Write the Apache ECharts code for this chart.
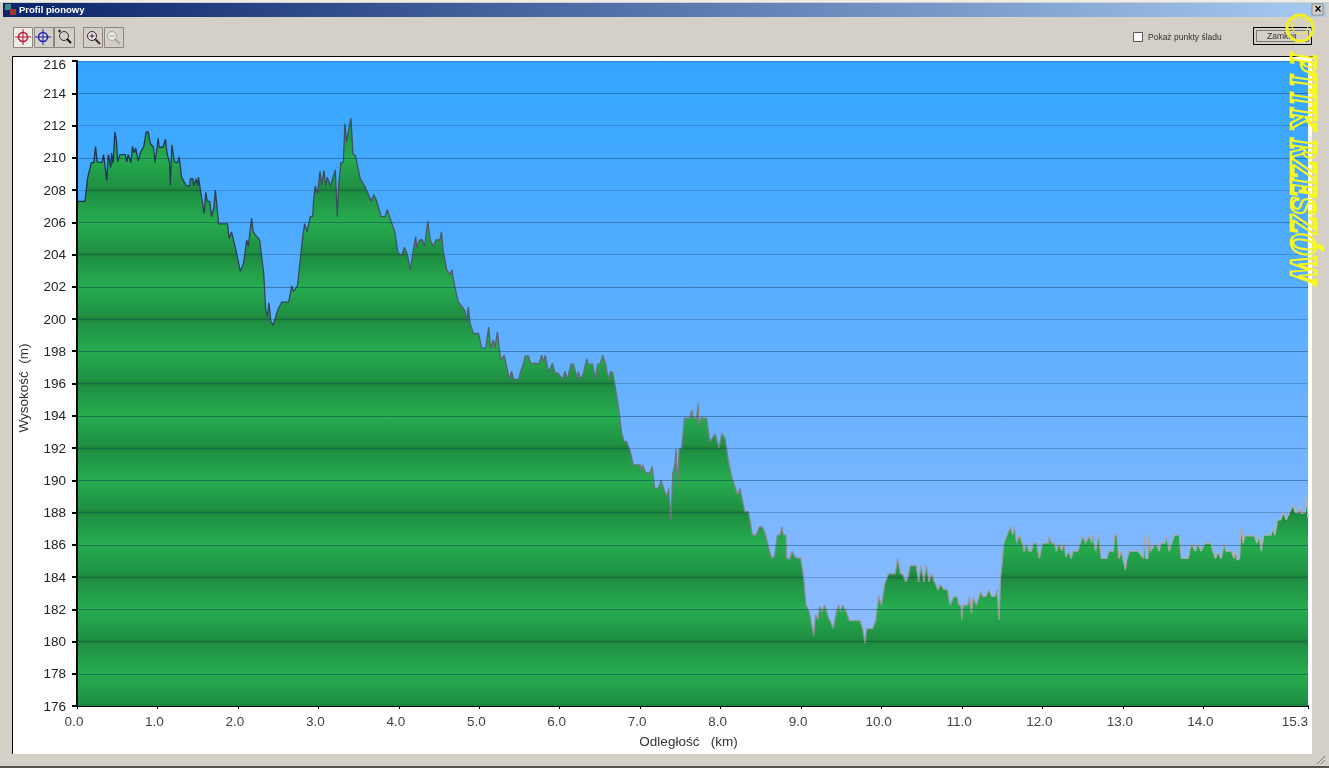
<!DOCTYPE html>
<html>
<head>
<meta charset="utf-8">
<title>Profil pionowy</title>
<style>html,body{margin:0;padding:0;background:#d4d0c8;overflow:hidden}#main{width:1329px;height:768px}</style>
<script src="https://cdn.jsdelivr.net/npm/echarts@6/dist/echarts.min.js"></script>
</head>
<body>
<div id="main"></div>
<script>
// odleglosc (km) i wysokosc (m)
var distances = [0,0.10,0.13,0.15,0.18,0.21,0.23,0.25,0.31,0.33,0.37,0.39,0.42,0.43,0.45,0.47,0.49,0.505,0.535,0.60,0.62,0.635,0.67,0.69,0.71,0.73,0.76,0.79,0.83,0.86,0.885,0.91,0.95,0.97,1.01,1.02,1.07,1.10,1.12,1.15,1.16,1.18,1.21,1.25,1.27,1.30,1.36,1.40,1.41,1.44,1.45,1.48,1.50,1.51,1.54,1.58,1.60,1.62,1.65,1.67,1.70,1.72,1.76,1.87,1.89,1.92,1.97,2.03,2.07,2.11,2.13,2.17,2.19,2.22,2.27,2.32,2.345,2.365,2.385,2.41,2.44,2.45,2.50,2.545,2.63,2.67,2.69,2.74,2.77,2.81,2.83,2.86,2.90,2.93,2.94,2.96,2.99,3.02,3.04,3.07,3.09,3.11,3.15,3.21,3.235,3.25,3.28,3.31,3.33,3.35,3.37,3.405,3.43,3.46,3.52,3.575,3.62,3.655,3.69,3.725,3.78,3.83,3.855,3.91,3.95,3.99,4.035,4.07,4.105,4.145,4.17,4.21,4.22,4.26,4.295,4.32,4.36,4.39,4.43,4.46,4.51,4.53,4.55,4.595,4.635,4.66,4.695,4.74,4.82,4.84,4.864,4.885,4.926,4.99,5.03,5.08,5.117,5.14,5.175,5.195,5.225,5.265,5.31,5.34,5.375,5.40,5.43,5.49,5.515,5.55,5.57,5.61,5.64,5.745,5.775,5.80,5.82,5.86,5.91,5.94,5.98,6.035,6.065,6.095,6.14,6.17,6.22,6.23,6.26,6.30,6.335,6.355,6.41,6.44,6.47,6.50,6.535,6.57,6.605,6.63,6.66,6.69,6.73,6.77,6.80,6.83,6.87,6.915,7.00,7.015,7.03,7.07,7.12,7.15,7.18,7.225,7.26,7.29,7.33,7.355,7.38,7.405,7.43,7.445,7.465,7.485,7.515,7.55,7.62,7.64,7.66,7.70,7.72,7.725,7.75,7.825,7.867,7.89,7.93,7.98,8.015,8.055,8.095,8.135,8.21,8.24,8.26,8.30,8.345,8.395,8.44,8.48,8.52,8.565,8.59,8.635,8.67,8.705,8.737,8.76,8.78,8.81,8.82,8.857,8.887,8.93,8.994,9.03,9.06,9.10,9.157,9.18,9.21,9.23,9.26,9.293,9.336,9.40,9.435,9.465,9.486,9.516,9.56,9.60,9.73,9.765,9.794,9.815,9.89,9.927,9.95,9.965,10.00,10.04,10.086,10.17,10.20,10.235,10.26,10.30,10.33,10.355,10.43,10.46,10.49,10.527,10.556,10.59,10.62,10.65,10.70,10.73,10.77,10.82,10.85,10.90,10.94,10.96,10.985,10.997,11.015,11.07,11.09,11.117,11.14,11.18,11.23,11.26,11.30,11.33,11.37,11.41,11.435,11.46,11.477,11.50,11.52,11.56,11.60,11.63,11.65,11.68,11.71,11.75,11.77,11.80,11.83,11.86,11.89,11.925,11.96,12.00,12.075,12.085,12.11,12.145,12.175,12.20,12.24,12.27,12.29,12.33,12.355,12.38,12.44,12.47,12.50,12.535,12.58,12.61,12.62,12.66,12.70,12.73,12.80,12.825,12.88,12.90,12.925,12.95,12.98,13.03,13.05,13.08,13.19,13.21,13.25,13.27,13.28,13.31,13.325,13.34,13.41,13.45,13.47,13.525,13.54,13.575,13.64,13.70,13.725,13.81,13.85,13.90,13.93,13.97,14.02,14.09,14.12,14.15,14.18,14.22,14.26,14.28,14.35,14.38,14.395,14.42,14.45,14.465,14.495,14.515,14.635,14.665,14.695,14.72,14.75,14.84,14.86,14.89,14.92,14.96,14.995,15.03,15.07,15.115,15.14,15.18,15.19,15.21,15.265,15.28,15.30];
var heights = [207.3,207.3,208.7,208.75,209.7,209.7,210.7,209.75,209.7,210.2,208.6,210.2,209.4,210.3,209.65,211.6,211.1,209.75,210.2,210.2,209.75,210.2,209.7,210.7,210.3,210.6,209.8,210.35,210.7,211.6,211.6,210.9,210.65,209.7,211.2,210.65,210.65,211.15,210.25,209.7,208.3,210.8,209.75,209.7,210.05,208.8,208.25,208.25,208.7,208.7,208.25,208.7,208.25,208.8,207.8,206.55,207.85,207.3,207.3,206.35,206.85,208,205.9,205.9,205,205.4,204.4,202.95,203.45,204.9,204.5,206.25,205.4,205.2,204.9,202.85,200.6,200.15,201,199.85,199.6,199.85,200.6,201.05,201.05,202.05,201.7,202.05,203.45,205.3,205.9,205.4,206.35,206.35,207.3,208.25,207.8,209.15,208.3,209.2,208.25,208.8,208.25,209.25,206.35,208.15,209.7,209.7,212.1,211,211.1,212.45,210.2,210.15,208.7,208.25,207.75,207.3,207.7,207.3,206.35,206.35,206.8,205.95,205.4,204.1,203.95,204.45,204,203.05,204,205.1,204.45,204.9,204.9,204.5,206.05,204.9,204.5,204.9,204.9,205.4,204.3,203.05,202.75,203.05,202,201.05,200.55,199.85,200.75,199.75,199.1,199.1,198.2,198.2,199.5,198.2,198.7,198.2,199.2,197.45,197.75,197.05,196.25,196.75,196.25,196.25,196.75,197.25,197.7,197.7,197.25,197.25,197.75,197.35,197.75,196.7,197.25,196.65,196.65,196.25,196.75,196.25,197.2,197.2,196.25,196.75,196.25,196.75,197.55,197.2,197.2,196.25,197.2,197.2,197.75,197.2,196.25,196.75,196.65,195.8,194.55,192.9,192.4,192.4,191.9,190.95,190.95,190.55,190.95,190.45,190.45,190.85,189.5,189.5,190,189.5,189,189.5,187.55,190.45,190.95,191.95,189.6,191.95,192,193.85,193.85,194.35,193.85,193.85,194.75,193.35,193.85,193.85,192.4,192.4,192.9,192,192.9,192.6,191.25,190.25,189.1,189.5,189.5,188.05,188.05,186.6,186.6,187.1,187.1,186.5,185.9,185.15,185.3,186.6,186.6,187.1,186.6,186.6,185.15,185.1,185.6,185.2,185.15,184,182.25,181.85,180.35,181.65,181.35,182.2,181.85,182.25,181.55,180.8,181.75,182.25,181.85,182.25,181.85,181.3,181.3,180.8,179.9,180.8,180.8,181.3,181.3,182.8,182.25,183.6,184.2,184.2,185.15,184.2,184.2,183.7,184,184.7,184.7,183.7,184.7,183.7,184.7,183.7,184.2,183.8,183.2,183.55,183.25,183.2,182.25,182.8,182.75,182.25,182.25,181.35,182.25,182.25,182.8,181.75,182.75,182.25,183.1,182.8,182.8,183.2,182.8,182.8,183.2,181.35,183.8,183.9,186.1,186.6,187.1,186.6,187.1,186.1,186.6,186.1,185.55,186.1,185.6,185.6,186.1,186.1,185.15,186.1,186.1,186.6,186.1,186.1,185.6,186.1,185.65,186.1,185.25,185.6,185.15,185.6,185.6,186.1,186.55,186.1,186.55,186.1,186.6,185.6,186.6,185.15,185.15,185.6,185.6,186.6,186.6,185.15,185.6,184.45,185.15,185.6,185.6,185.6,185.15,186.5,185.15,185.15,186.7,185.6,186.1,185.6,186.1,186.1,186.6,185.6,186.6,186.6,185.15,185.15,186.1,185.6,186.1,185.6,186.1,186.1,185.6,185.15,185.55,185.15,186.1,185.6,185.6,185.15,185.65,185.05,185.15,187.1,186.1,186.55,186.55,186.1,186.55,185.6,186.6,186.6,187,186.6,187.55,187.55,188,187.55,188,188.5,188,188,188.45,187.95,188,188.95,187.65];
var xTicks = [0,1,2,3,4,5,6,7,8,9,10,11,12,13,14,15.3];
var yTitle = 'Wysokość  (m)';
var xTitle = 'Odległość   (km)';
var windowTitle = 'Profil pionowy';
var checkLabel = 'Pokaż punkty śladu';
var closeLabel = 'Zamknij';
var stampText = 'PTTK RZESZÓW';

var gridLeft = 77, gridRight = 1308, gridTop = 61, gridBottom = 706;
var chromeFont = '"Liberation Sans", sans-serif';

var profile = distances.map(function(d, i){ return [d, heights[i]]; });

// paski zieleni: ciemne na 176,180,184... jasne na 178,182...
function greenBands(){
	var stops = [];
	var dark = '#1b8039', mid = '#1f9043', light = '#26ad4f';
	for(var m = 216; m > 176; m -= 4){
		var o = (216 - m) / 40;
		var s = 1 / 40;
		stops.push({offset: o, color: dark});
		stops.push({offset: o + s * 0.2, color: mid});
		stops.push({offset: o + s * 2, color: light});
		stops.push({offset: o + s * 3.8, color: mid});
	}
	stops.push({offset: 1, color: dark});
	return stops;
}

function button(x, y, w, h){
	return {type:'rect', shape:{x:x+0.5,y:y+0.5,width:w,height:h}, style:{fill:'#d4d0c8',stroke:'#8a877f',lineWidth:1}};
}
function crosshair(cx, cy, col){
	return [
		{type:'circle', shape:{cx:cx,cy:cy,r:4.5}, style:{fill:'none',stroke:col,lineWidth:1.5}},
		{type:'line', shape:{x1:cx-8,y1:cy,x2:cx+8,y2:cy}, style:{stroke:col,lineWidth:1}},
		{type:'line', shape:{x1:cx,y1:cy-8,x2:cx,y2:cy+8}, style:{stroke:col,lineWidth:1}}
	];
}
function lens(cx, cy, col, sign){
	var g = [
		{type:'circle', shape:{cx:cx,cy:cy,r:4.5}, style:{fill:'#e8e6e0',stroke:col,lineWidth:1}},
		{type:'line', shape:{x1:cx+3,y1:cy+3,x2:cx+8,y2:cy+8}, style:{stroke:col,lineWidth:2}},
		{type:'line', shape:{x1:cx-2.5,y1:cy,x2:cx+2.5,y2:cy}, style:{stroke:col,lineWidth:1}}
	];
	if(sign){
		g.push({type:'line', shape:{x1:cx,y1:cy-2.5,x2:cx,y2:cy+2.5}, style:{stroke:col,lineWidth:1}});
	}
	return g;
}

var chrome = [
	// okno
	{type:'rect', z:-10, shape:{x:0,y:0,width:1329,height:768}, style:{fill:'#d4d0c8'}},
	{type:'rect', z:-9, shape:{x:0,y:0,width:1329,height:2}, style:{fill:'#eeece6'}},
	{type:'rect', z:-9, shape:{x:0,y:766,width:1329,height:2}, style:{fill:'#55534e'}},
	{type:'rect', z:-9, shape:{x:3,y:3,width:1323,height:14}, style:{fill:new echarts.graphic.LinearGradient(0,0,1,0,[{offset:0,color:'#0a246a'},{offset:1,color:'#a6caf0'}])}},
	{type:'rect', z:-8, shape:{x:5,y:4,width:6,height:6}, style:{fill:'#3f8a8a'}},
	{type:'rect', z:-8, shape:{x:10,y:9,width:6,height:6}, style:{fill:'#a03a2a'}},
	{type:'text', z:-8, x:19, y:5, style:{text:windowTitle, font:'bold 9.5px '+chromeFont, fill:'#ffffff'}},
	{type:'rect', z:-8, shape:{x:1312,y:4,width:11,height:11}, style:{fill:'#d4d0c8',stroke:'#555',lineWidth:0.5}},
	{type:'text', z:-8, x:1314.5, y:3.5, style:{text:'×', font:'bold 12px '+chromeFont, fill:'#000'}},
	// panel wykresu
	{type:'rect', z:-7, shape:{x:12.5,y:56.5,width:1300,height:698}, style:{fill:'#ffffff',stroke:'#d4d0c8',lineWidth:1}},
	{type:'polyline', z:-6, shape:{points:[[12.5,754],[12.5,56.5],[1313,56.5]]}, style:{fill:'none',stroke:'#000',lineWidth:1}},
	// pasek narzedzi
	button(13,27,19,20), button(34,27,19,20), button(54,27,20,20), button(83,27,19,20), button(104,27,19,20),
	{type:'rect', shape:{x:14,y:28,width:18,height:19}, style:{fill:'#ecebe6'}}
].concat(
	crosshair(23, 37, '#c01030'), crosshair(43, 37, '#2020b0'),
	[{type:'circle', shape:{cx:64,cy:36,r:4.5}, style:{fill:'none',stroke:'#333',lineWidth:1}},
	 {type:'line', shape:{x1:67,y1:39,x2:71,y2:43}, style:{stroke:'#111',lineWidth:2}},
	 {type:'line', shape:{x1:58,y1:31,x2:61,y2:31}, style:{stroke:'#111',lineWidth:1}},
	 {type:'line', shape:{x1:59.5,y1:29.5,x2:59.5,y2:32.5}, style:{stroke:'#111',lineWidth:1}}],
	lens(92, 36, '#402030', true), lens(112, 36, '#a8a6a0', false),
	[
	// checkbox i przycisk
	{type:'rect', shape:{x:1133.5,y:32.5,width:9,height:9}, style:{fill:'#fff',stroke:'#555',lineWidth:1}},
	{type:'text', x:1148, y:33, style:{text:checkLabel, font:'8.5px '+chromeFont, fill:'#333'}},
	{type:'rect', shape:{x:1253.5,y:27.5,width:58,height:17}, style:{fill:'#d4d0c8',stroke:'#000',lineWidth:1}},
	{type:'rect', shape:{x:1256.5,y:30.5,width:52,height:11}, style:{fill:'none',stroke:'#222',lineWidth:1,lineDash:[1,1]}},
	{type:'text', x:1267, y:32, style:{text:closeLabel, font:'8.5px '+chromeFont, fill:'#333'}},
	// uchwyt okna
	{type:'line', shape:{x1:1317,y1:764,x2:1325,y2:756}, style:{stroke:'#777',lineWidth:1}},
	{type:'line', shape:{x1:1321,y1:764,x2:1325,y2:760}, style:{stroke:'#777',lineWidth:1}},
	// znak wodny
	{type:'circle', z:50, shape:{cx:1300,cy:28,r:13}, style:{fill:'none',stroke:'#f4f020',lineWidth:3}},
	{type:'circle', z:50, shape:{cx:1300,cy:26,r:8}, style:{fill:'none',stroke:'#f4f020',lineWidth:1}},
	{type:'text', z:50, x:1316, y:53, rotation:-Math.PI/2, scaleX:0.76, style:{text:stampText, font:'italic bold 33px "DejaVu Serif", serif', fill:'rgba(255,255,255,0)', stroke:'#f8f820', lineWidth:2.5}}
]);

var myChart = echarts.init(document.getElementById('main'), null, {renderer:'canvas'});
var option = {
	animation: false,
	backgroundColor: 'transparent',
	textStyle: {fontFamily: chromeFont},
	graphic: {elements: chrome},
	grid: {
		left: gridLeft,
		top: gridTop,
		width: gridRight - gridLeft,
		height: gridBottom - gridTop,
		show: true,
		borderWidth: 0,
		backgroundColor: new echarts.graphic.LinearGradient(0, 0, 0, 1, [
			{offset: 0, color: '#33a5ff'},
			{offset: 1, color: '#99beff'}
		])
	},
	xAxis: {
		type: 'value',
		min: 0,
		max: 15.3,
		name: xTitle,
		nameLocation: 'middle',
		nameGap: 29,
		nameTextStyle: {fontSize: 13.5, color: '#333', padding: [0, 8, 0, 0]},
		axisLine: {show: true, onZero: false, lineStyle: {color: '#000', width: 2}},
		axisTick: {show: true, length: 3, customValues: xTicks, lineStyle: {color: '#000', width: 1}},
		axisLabel: {
			color: '#444',
			fontSize: 13.5,
			margin: 9,
			customValues: xTicks,
			alignMaxLabel: 'right',
			formatter: function(v){
				return v === 15.3 ? v.toFixed(1) : '{a|' + v.toFixed(1) + '}';
			},
			rich: {a: {color: '#444', fontSize: 13.5, padding: [0, 6, 0, 0]}}
		},
		splitLine: {show: false}
	},
	yAxis: {
		type: 'value',
		z: 5,
		min: 176,
		max: 216,
		interval: 2,
		name: yTitle,
		nameLocation: 'middle',
		nameGap: 46,
		nameTextStyle: {fontSize: 13.5, color: '#333', padding: [0, 9, 0, 0]},
		axisLine: {show: true, onZero: false, lineStyle: {color: '#000', width: 2}},
		axisTick: {show: true, length: 5, lineStyle: {color: '#000', width: 2}},
		axisLabel: {
			color: '#222',
			fontSize: 13.5,
			margin: 11,
			padding: [2, 0, 0, 0],
			formatter: function(v){
				return v === 216 ? '{t|' + v + '}' : '' + v;
			},
			rich: {t: {color: '#222', fontSize: 13.5, padding: [6, 0, 0, 0]}}
		},
		splitLine: {show: true, lineStyle: {color: ['rgba(10,50,90,0.26)', 'rgba(10,50,90,0.42)'], width: 1}}
	},
	series: [{
		type: 'line',
		data: profile,
		showSymbol: false,
		symbol: 'none',
		smooth: false,
		sampling: false,
		z: 2,
		lineStyle: {
			width: 1.3,
			color: new echarts.graphic.LinearGradient(0, 0, 1, 0, [
				{offset: 0, color: '#15304a'},
				{offset: 0.35, color: '#55626e'},
				{offset: 0.65, color: '#94979b'},
				{offset: 1, color: '#b5b2ae'}
			])
		},
		areaStyle: {
			opacity: 1,
			color: new echarts.graphic.LinearGradient(0, gridTop, 0, gridBottom, greenBands(), true)
		}
	}]
};
myChart.setOption(option);
</script>
</body>
</html>
